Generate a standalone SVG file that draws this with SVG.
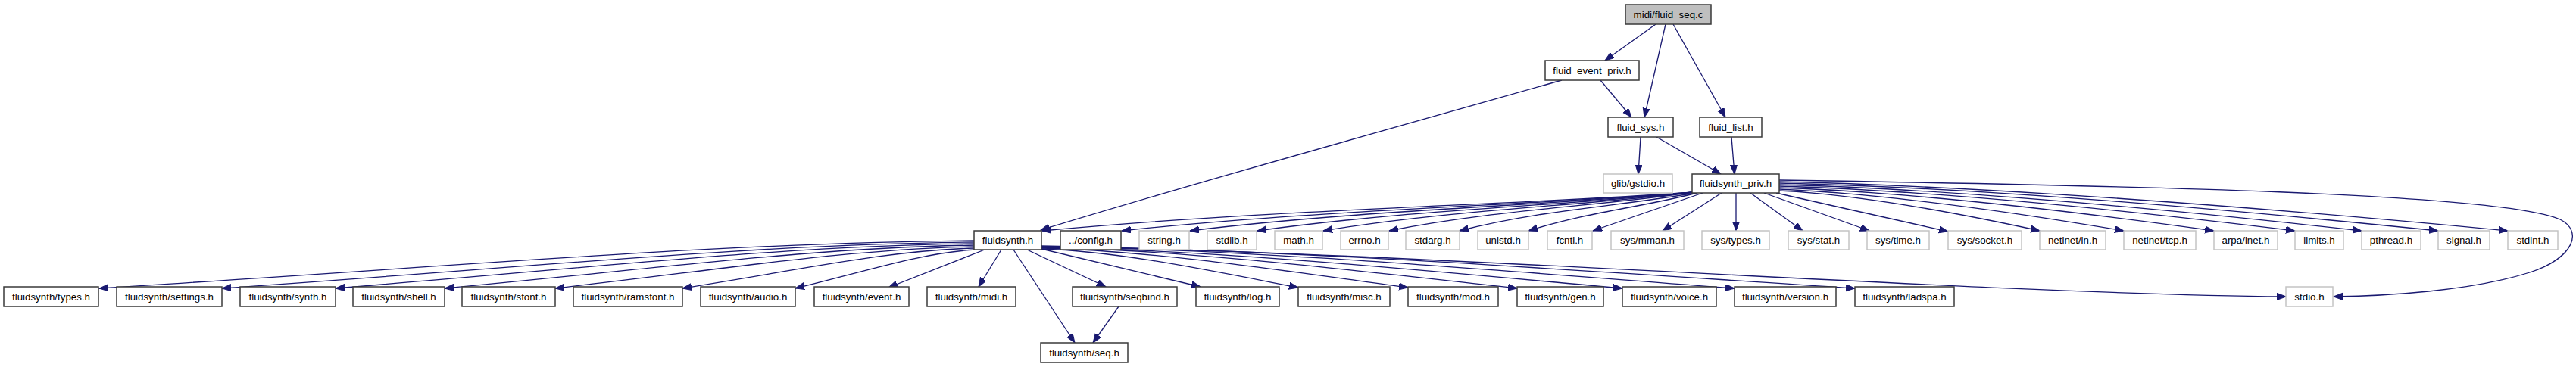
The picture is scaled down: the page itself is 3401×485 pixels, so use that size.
<svg xmlns="http://www.w3.org/2000/svg" width="3401" height="485" viewBox="0 0 3401 485">
<style>
.n rect{fill:#fff;stroke:#3a3a3a;stroke-width:1.5}
.r rect{fill:#bfbfbf;stroke:#3a3a3a;stroke-width:1.5}
.g rect{fill:#fff;stroke:#c4c4c4;stroke-width:1.5}
text{font-family:"Liberation Sans",Arial,sans-serif;font-size:13.33px;fill:#000;text-anchor:middle}
#edges path{fill:none;stroke:#191970;stroke-width:1.3;marker-end:url(#ah)}
</style>
<defs>
<marker id="ah" markerUnits="userSpaceOnUse" markerWidth="13" markerHeight="10" refX="12" refY="4.5" orient="auto">
<path d="M0,0 L12,4.5 L0,9 z" fill="#191970" stroke="#191970" stroke-width="1"/>
</marker>
</defs>
<rect width="3401" height="485" fill="#fff"/>
<g id="edges">
<path d="M2186,32 L2119,80"/>
<path d="M2199,32 L2171,155"/>
<path d="M2209,32 L2278,155"/>
<path d="M2113,106 L2154,155"/>
<path d="M2062,106 C1800,180 1550,250 1374,304"/>
<path d="M2166,181 L2163,230"/>
<path d="M2187,181 L2272,230"/>
<path d="M2286,181 L2290,230"/>
<path d="M2236,254 C1978,272 1677,277 1376,305"/>
<path d="M2236,254 C2009,272 1745,277 1481,305"/>
<path d="M2236,254 C2037,272 1804,277 1571,305"/>
<path d="M2236,254 C2063,272 1862,277 1660,305"/>
<path d="M2236,254 C2089,272 1918,277 1747,305"/>
<path d="M2236,254 C2115,272 1975,277 1834,305"/>
<path d="M2238,255 C2143,272 2035,277 1927,305"/>
<path d="M2240,255 C2173,273 2096,280 2018,305"/>
<path d="M2248,255 L2103,305"/>
<path d="M2273,255 L2195,305"/>
<path d="M2292,255 L2292,305"/>
<path d="M2311,255 L2380,305"/>
<path d="M2329,255 L2468,305"/>
<path d="M2345,255 C2420,272 2500,290 2572,306"/>
<path d="M2349,252 C2452,257 2573,279 2693,305"/>
<path d="M2349,250 C2486,256 2645,278 2804,305"/>
<path d="M2349,248 C2521,254 2722,277 2923,305"/>
<path d="M2349,246 C2553,252 2792,276 3030,305"/>
<path d="M2349,244 C2580,250 2849,275 3118,305"/>
<path d="M2349,242 C2610,248 2914,274 3219,305"/>
<path d="M2349,240 C2638,247 2974,273 3311,305"/>
<path d="M2349,238 C2800,245 3300,255 3380,290 C3410,305 3400,340 3340,360 C3260,385 3150,391 3081,392"/>
<path d="M1286,318 C939,321 592,353 131,381"/>
<path d="M1286,320 C988,323 690,354 293,381"/>
<path d="M1286,322 C1033,325 780,354 443,381"/>
<path d="M1286,324 C1076,327 867,355 587,381"/>
<path d="M1286,326 C1120,329 954,356 733,381"/>
<path d="M1286,328 C1170,331 1055,357 901,381"/>
<path d="M1288,330 C1217,334 1145,358 1050,381"/>
<path d="M1300,330 L1173,380"/>
<path d="M1322,330 L1292,379"/>
<path d="M1338,330 L1419,453"/>
<path d="M1356,330 L1460,379"/>
<path d="M1477,405 L1443,453"/>
<path d="M1375,329 L1585,379"/>
<path d="M1375,329 C1477,332 1595,357 1714,380"/>
<path d="M1375,328 C1520,331 1690,357 1859,380"/>
<path d="M1375,327 C1563,330 1783,357 2003,381"/>
<path d="M1375,327 C1605,330 1873,357 2142,381"/>
<path d="M1375,326 C1650,329 1970,357 2290,381"/>
<path d="M1375,326 C1697,329 2073,357 2449,381"/>
<path d="M1375,325 C1900,335 2600,388 3018,392"/>
</g>
<g id="n_fluid_seq_c" class="r"><rect x="2146" y="6" width="113" height="26"/><text x="2202.5" y="23.5">midi/fluid_seq.c</text></g>
<g id="n_fluid_event_priv_h" class="n"><rect x="2040" y="80" width="124" height="26"/><text x="2102" y="97.5">fluid_event_priv.h</text></g>
<g id="n_fluid_sys_h" class="n"><rect x="2123" y="155" width="86" height="26"/><text x="2166" y="172.5">fluid_sys.h</text></g>
<g id="n_fluid_list_h" class="n"><rect x="2244" y="155" width="82" height="26"/><text x="2285" y="172.5">fluid_list.h</text></g>
<g id="n_glib_gstdio_h" class="g"><rect x="2117" y="230" width="91" height="25"/><text x="2162.5" y="247">glib/gstdio.h</text></g>
<g id="n_fluidsynth_priv_h" class="n"><rect x="2234" y="230" width="115" height="25"/><text x="2291.5" y="247">fluidsynth_priv.h</text></g>
<g id="n_fluidsynth_h" class="n"><rect x="1286" y="305" width="89" height="25"/><text x="1330.5" y="322">fluidsynth.h</text></g>
<g id="n_config_h" class="n"><rect x="1400" y="305" width="80" height="25"/><text x="1440" y="322">../config.h</text></g>
<g id="n_string_h" class="g"><rect x="1504" y="305" width="66" height="25"/><text x="1537" y="322">string.h</text></g>
<g id="n_stdlib_h" class="g"><rect x="1594" y="305" width="65" height="25"/><text x="1626.5" y="322">stdlib.h</text></g>
<g id="n_math_h" class="g"><rect x="1683" y="305" width="63" height="25"/><text x="1714.5" y="322">math.h</text></g>
<g id="n_errno_h" class="g"><rect x="1770" y="305" width="63" height="25"/><text x="1801.5" y="322">errno.h</text></g>
<g id="n_stdarg_h" class="g"><rect x="1856" y="305" width="71" height="25"/><text x="1891.5" y="322">stdarg.h</text></g>
<g id="n_unistd_h" class="g"><rect x="1951" y="305" width="67" height="25"/><text x="1984.5" y="322">unistd.h</text></g>
<g id="n_fcntl_h" class="g"><rect x="2043" y="305" width="59" height="25"/><text x="2072.5" y="322">fcntl.h</text></g>
<g id="n_sys_mman_h" class="g"><rect x="2127" y="305" width="96" height="25"/><text x="2175" y="322">sys/mman.h</text></g>
<g id="n_sys_types_h" class="g"><rect x="2247" y="305" width="89" height="25"/><text x="2291.5" y="322">sys/types.h</text></g>
<g id="n_sys_stat_h" class="g"><rect x="2361" y="305" width="80" height="25"/><text x="2401" y="322">sys/stat.h</text></g>
<g id="n_sys_time_h" class="g"><rect x="2465" y="305" width="82" height="25"/><text x="2506" y="322">sys/time.h</text></g>
<g id="n_sys_socket_h" class="g"><rect x="2572" y="305" width="97" height="25"/><text x="2620.5" y="322">sys/socket.h</text></g>
<g id="n_netinet_in_h" class="g"><rect x="2693" y="305" width="87" height="25"/><text x="2736.5" y="322">netinet/in.h</text></g>
<g id="n_netinet_tcp_h" class="g"><rect x="2804" y="305" width="95" height="25"/><text x="2851.5" y="322">netinet/tcp.h</text></g>
<g id="n_arpa_inet_h" class="g"><rect x="2923" y="305" width="84" height="25"/><text x="2965" y="322">arpa/inet.h</text></g>
<g id="n_limits_h" class="g"><rect x="3030" y="305" width="64" height="25"/><text x="3062" y="322">limits.h</text></g>
<g id="n_pthread_h" class="g"><rect x="3118" y="305" width="78" height="25"/><text x="3157" y="322">pthread.h</text></g>
<g id="n_signal_h" class="g"><rect x="3219" y="305" width="68" height="25"/><text x="3253" y="322">signal.h</text></g>
<g id="n_stdint_h" class="g"><rect x="3311" y="305" width="66" height="25"/><text x="3344" y="322">stdint.h</text></g>
<g id="n_types_h" class="n"><rect x="5" y="379" width="125" height="26"/><text x="67.5" y="396.5">fluidsynth/types.h</text></g>
<g id="n_settings_h" class="n"><rect x="154" y="379" width="139" height="26"/><text x="223.5" y="396.5">fluidsynth/settings.h</text></g>
<g id="n_synth_h" class="n"><rect x="317" y="379" width="126" height="26"/><text x="380" y="396.5">fluidsynth/synth.h</text></g>
<g id="n_shell_h" class="n"><rect x="466" y="379" width="121" height="26"/><text x="526.5" y="396.5">fluidsynth/shell.h</text></g>
<g id="n_sfont_h" class="n"><rect x="610" y="379" width="123" height="26"/><text x="671.5" y="396.5">fluidsynth/sfont.h</text></g>
<g id="n_ramsfont_h" class="n"><rect x="757" y="379" width="144" height="26"/><text x="829" y="396.5">fluidsynth/ramsfont.h</text></g>
<g id="n_audio_h" class="n"><rect x="925" y="379" width="125" height="26"/><text x="987.5" y="396.5">fluidsynth/audio.h</text></g>
<g id="n_event_h" class="n"><rect x="1075" y="379" width="125" height="26"/><text x="1137.5" y="396.5">fluidsynth/event.h</text></g>
<g id="n_midi_h" class="n"><rect x="1224" y="379" width="117" height="26"/><text x="1282.5" y="396.5">fluidsynth/midi.h</text></g>
<g id="n_seqbind_h" class="n"><rect x="1416" y="379" width="138" height="26"/><text x="1485" y="396.5">fluidsynth/seqbind.h</text></g>
<g id="n_log_h" class="n"><rect x="1579" y="379" width="110" height="26"/><text x="1634" y="396.5">fluidsynth/log.h</text></g>
<g id="n_misc_h" class="n"><rect x="1714" y="379" width="121" height="26"/><text x="1774.5" y="396.5">fluidsynth/misc.h</text></g>
<g id="n_mod_h" class="n"><rect x="1859" y="379" width="119" height="26"/><text x="1918.5" y="396.5">fluidsynth/mod.h</text></g>
<g id="n_gen_h" class="n"><rect x="2003" y="379" width="114" height="26"/><text x="2060" y="396.5">fluidsynth/gen.h</text></g>
<g id="n_voice_h" class="n"><rect x="2142" y="379" width="124" height="26"/><text x="2204" y="396.5">fluidsynth/voice.h</text></g>
<g id="n_version_h" class="n"><rect x="2290" y="379" width="134" height="26"/><text x="2357" y="396.5">fluidsynth/version.h</text></g>
<g id="n_ladspa_h" class="n"><rect x="2449" y="379" width="131" height="26"/><text x="2514.5" y="396.5">fluidsynth/ladspa.h</text></g>
<g id="n_stdio_h" class="g"><rect x="3018" y="379" width="62" height="26"/><text x="3049" y="396.5">stdio.h</text></g>
<g id="n_seq_h" class="n"><rect x="1374" y="453" width="115" height="26"/><text x="1431.5" y="470.5">fluidsynth/seq.h</text></g>
</svg>
